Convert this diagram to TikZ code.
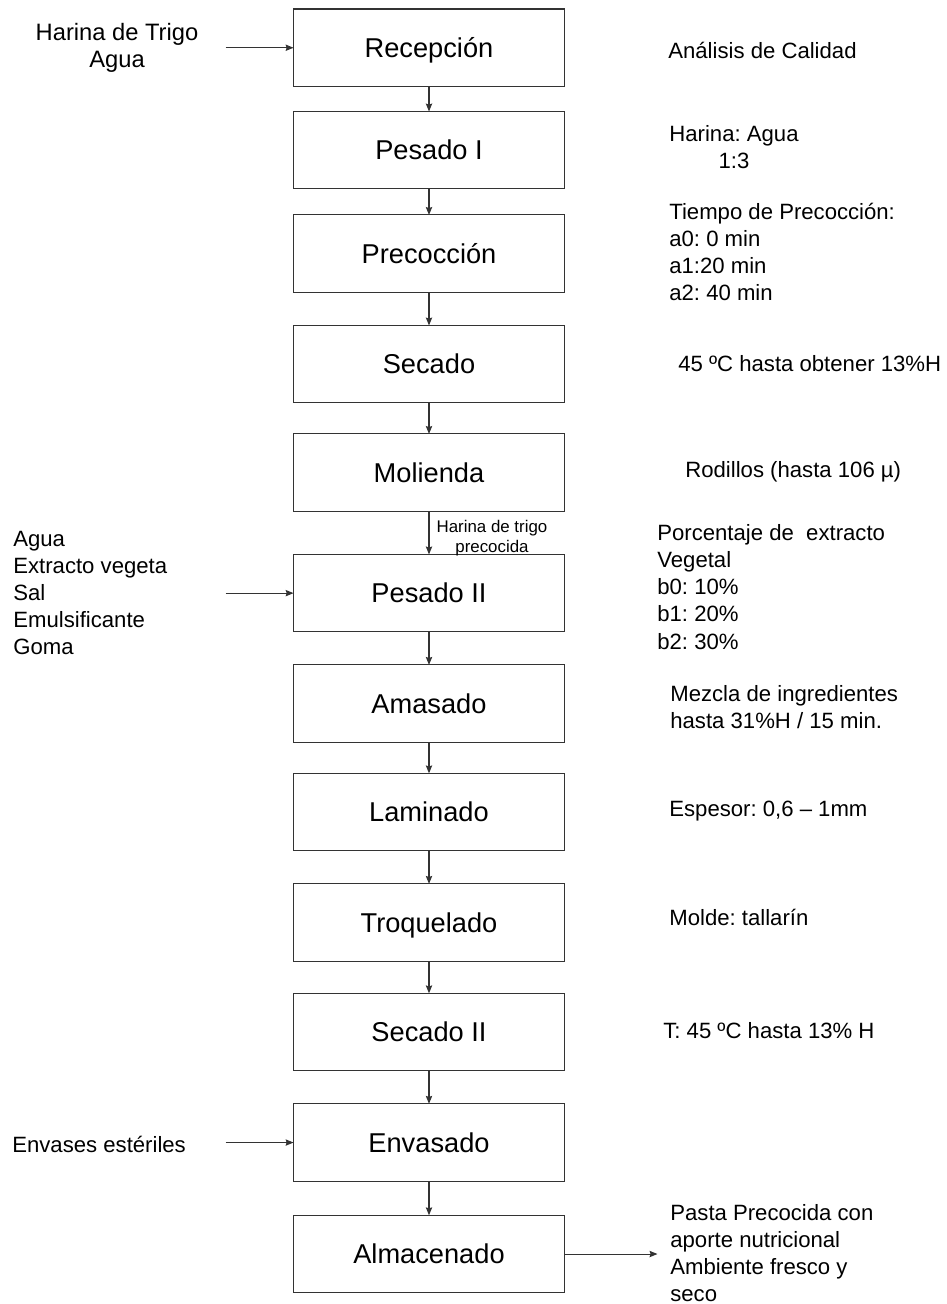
\documentclass[tikz,border=0pt]{standalone}
\usepackage{fontspec}
\setmainfont{Liberation Sans}
\frenchspacing
\usetikzlibrary{arrows.meta,positioning}
\tikzset{
  procbox/.style  = {rectangle, draw=black!80, line width=0.6pt,
                     minimum width=5.42cm, minimum height=1.55cm,
                     inner sep=0pt, outer sep=0pt,
                     text height=11pt, text depth=0pt,
                     font=\fontsize{15.5}{18}\selectfont,
                     text centered},
  notetxt/.style  = {anchor=west, inner sep=0pt, align=left,
                     font=\fontsize{12.6}{15.4}\selectfont},
  smalltxt/.style = {inner sep=0pt, align=center,
                     font=\fontsize{9.6}{11.4}\selectfont},
  flowarrow/.style= {-{Stealth[length=4.5pt,width=3.6pt,inset=0.6pt]},
                     line width=0.6pt, black!80},
}

\begin{document}
\begin{tikzpicture}[x=0.02cm, y=-0.02cm]
  \useasboundingbox (0,0) rectangle (946,1304);

  %% ---- Process column ----
  \node[procbox] (rec) at (429,47.75) {Recepción};
  \node[procbox, below=0.50cm of rec]  (pes1)  {Pesado I};
  \node[procbox, below=0.52cm of pes1] (prec)  {Precocción};
  \node[procbox, below=0.66cm of prec] (sec1)  {Secado};
  \node[procbox, below=0.62cm of sec1] (mol)   {Molienda};
  \node[procbox, below=0.86cm of mol]  (pes2)  {Pesado II};
  \node[procbox, below=0.66cm of pes2] (amas)  {Amasado};
  \node[procbox, below=0.62cm of amas] (lam)   {Laminado};
  \node[procbox, below=0.66cm of lam]  (troq)  {Troquelado};
  \node[procbox, below=0.64cm of troq] (sec2)  {Secado II};
  \node[procbox, below=0.66cm of sec2] (env)   {Envasado};
  \node[procbox, below=0.68cm of env]  (alm)   {Almacenado};

  %% ---- Inputs (left) ----
  \node[notetxt, anchor=center, align=center,
        font=\fontsize{13.5}{15.4}\selectfont] (inHar) at (117,48)
        {Harina de Trigo\\Agua};
  \node[notetxt] (inIngr) at (13,593)
        {Agua\\Extracto vegeta\\Sal\\Emulsificante\\Goma};
  \node[notetxt] (inEnv) at (12,1144) {Envases estériles};

  \coordinate[left=1.36cm of rec.west]  (aHar);
  \coordinate[left=1.36cm of pes2.west] (aIngr);
  \coordinate[left=1.36cm of env.west]  (aEnv);
  \coordinate[right=1.86cm of alm.east] (aOut);

  %% ---- Notes (right) ----
  \node[notetxt] (nRec) at (668,50) {Análisis de Calidad};
  \node[notetxt, anchor=center, align=center] (nPes1) at (734,147)
        {Harina: Agua\\1:3};
  \node[notetxt] (nPrec) at (669,252)
        {Tiempo de Precocción:\\a0: 0 min\\a1:20 min\\a2: 40 min};
  \node[notetxt] (nSec1) at (678,364) {45 ºC hasta obtener 13\%H};
  \node[notetxt] (nMol)  at (685,472) {Rodillos (hasta 106 µ)};
  \node[notetxt] (nPes2) at (657,587)
        {Porcentaje de~ extracto\\Vegetal\\b0: 10\%\\b1: 20\%\\b2: 30\%};
  \node[notetxt] (nAmas) at (670,707)
        {Mezcla de ingredientes\\hasta 31\%H / 15 min.};
  \node[notetxt] (nLam)  at (669,811) {Espesor: 0,6 – 1mm};
  \node[notetxt] (nTroq) at (669,917) {Molde: tallarín};
  \node[notetxt] (nSec2) at (663,1031) {T: 45 ºC hasta 13\% H};
  \node[notetxt] (nAlm)  at (670,1253)
        {Pasta Precocida con\\aporte nutricional\\Ambiente fresco y\\seco};

  %% ---- Label between Molienda and Pesado II ----
  \node[smalltxt] (lblMol) at (492,538) {Harina de trigo\\precocida};

  %% ---- Arrows: main flow ----
  \draw[flowarrow] (rec)  -- (pes1);
  \draw[flowarrow] (pes1) -- (prec);
  \draw[flowarrow] (prec) -- (sec1);
  \draw[flowarrow] (sec1) -- (mol);
  \draw[flowarrow] (mol)  -- (pes2);
  \draw[flowarrow] (pes2) -- (amas);
  \draw[flowarrow] (amas) -- (lam);
  \draw[flowarrow] (lam)  -- (troq);
  \draw[flowarrow] (troq) -- (sec2);
  \draw[flowarrow] (sec2) -- (env);
  \draw[flowarrow] (env)  -- (alm);

  %% ---- Arrows: inputs and output ----
  \draw[flowarrow] (aHar)  -- (rec.west);
  \draw[flowarrow] (aIngr) -- (pes2.west);
  \draw[flowarrow] (aEnv)  -- (env.west);
  \draw[flowarrow] (alm.east) -- (aOut);

\end{tikzpicture}
\end{document}
